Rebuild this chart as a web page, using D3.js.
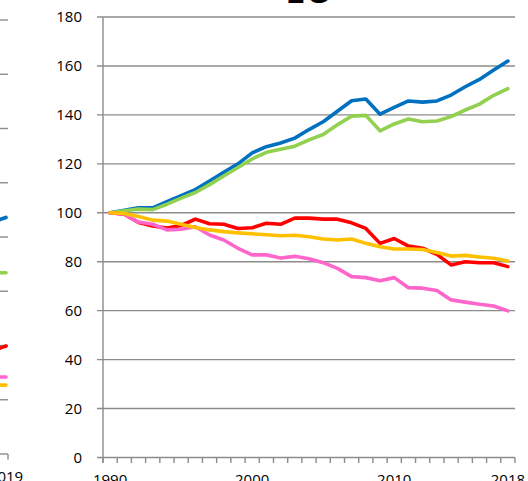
<!DOCTYPE html>
<html>
<head>
<meta charset="utf-8">
<script src="https://cdn.jsdelivr.net/npm/d3@7/dist/d3.min.js"></script>
<style>
  html, body { margin: 0; padding: 0; background: #fff; }
  svg { display: block; }
  text { font-family: "Open Sans", "Noto Sans", sans-serif; fill: #000; }
</style>
</head>
<body>
<svg id="chart" width="528" height="481"></svg>
<script>
// Index, 1990 = 100
const years = d3.range(1990, 2019);
const yTicks = [0, 20, 40, 60, 80, 100, 120, 140, 160, 180];
const xLabels = [1990, 2000, 2010, 2018];

const blue   = [100, 101, 102, 102, 104.5, 107, 109.5, 113, 116.5, 120, 124.5, 127, 128.5, 130.5, 134, 137.2, 141.5, 145.8, 146.5, 140.3, 143.1, 145.7, 145.2, 145.7, 148.1, 151.5, 154.5, 158.3, 162];
const green  = [100, 100.8, 101.5, 101.3, 103.5, 106, 108.3, 111.5, 115, 118.5, 122, 124.7, 126, 127.2, 129.8, 132, 136, 139.5, 139.8, 133.5, 136.3, 138.3, 137.2, 137.5, 139.3, 142, 144.4, 148, 150.7];
const red    = [100, 99.4, 96, 94.6, 93.8, 94.8, 97.4, 95.5, 95.3, 93.6, 93.9, 95.7, 95.3, 97.8, 97.8, 97.4, 97.4, 95.9, 93.6, 87.5, 89.5, 86.4, 85.5, 83, 78.7, 80, 79.6, 79.6, 78];
const pink   = [100, 99.4, 96.2, 95.3, 93, 93.3, 94.3, 90.9, 88.9, 85.5, 82.8, 82.8, 81.5, 82.2, 81.2, 79.6, 77.3, 73.9, 73.5, 72.2, 73.5, 69.4, 69.2, 68.2, 64.4, 63.5, 62.6, 61.9, 59.9];
const orange = [100, 99.7, 98.5, 97, 96.6, 95.3, 94, 93, 92.3, 91.8, 91.4, 91, 90.6, 90.8, 90.2, 89.3, 88.9, 89.3, 87.5, 86.1, 85.2, 85.2, 85, 83.8, 82.3, 82.6, 81.9, 81.4, 80.3];

// Neighbouring panel on the left: only its last years fall inside the frame
const leftYears = [2017, 2018, 2019];
const leftTicks = [0, 20, 40, 60, 80, 100, 120, 140, 160];
const leftBlue   = [86.2, 86.7, 87.2];
const leftGreen  = [66.8, 66.8, 66.8];
const leftRed    = [38.8, 39.3, 39.8];
const leftPink   = [28.4, 28.4, 28.4];
const leftOrange = [25.4, 25.4, 25.4];

const titleText = "EU";

const series = [
  { values: blue,   left: leftBlue,   color: "#0070C0" },
  { values: green,  left: leftGreen,  color: "#92D050" },
  { values: red,    left: leftRed,    color: "#FF0000" },
  { values: pink,   left: leftPink,   color: "#FF66CC" },
  { values: orange, left: leftOrange, color: "#FFC000" }
];

const svg = d3.select("#chart");
const gridColor = "#8c8c8c";

// ---- main panel ----
const plot = { left: 103, right: 515, top: 17, bottom: 457.5 };

const x = d3.scaleBand().domain(years).range([plot.left, plot.right]).padding(0);
const y = d3.scaleLinear().domain([0, 180]).range([plot.bottom, plot.top]);
const cx = d => x(d) + x.bandwidth() / 2;

// horizontal gridlines with short outer ticks
svg.append("g").selectAll("line").data(yTicks).join("line")
  .attr("x1", plot.left - 6).attr("x2", plot.right)
  .attr("y1", d => y(d)).attr("y2", d => y(d))
  .attr("stroke", gridColor).attr("stroke-width", 1.4);

// y axis line
svg.append("line")
  .attr("x1", plot.left).attr("x2", plot.left)
  .attr("y1", y(180)).attr("y2", plot.bottom + 5.5)
  .attr("stroke", gridColor).attr("stroke-width", 1.4);

// x tick marks between categories
const bounds = years.map(d => x(d)).concat([plot.right]);
svg.append("g").selectAll("line").data(bounds).join("line")
  .attr("x1", d => d).attr("x2", d => d)
  .attr("y1", plot.bottom).attr("y2", plot.bottom + 5.5)
  .attr("stroke", gridColor).attr("stroke-width", 1.4);

// y labels
svg.append("g").selectAll("text").data(yTicks).join("text")
  .attr("x", 82).attr("y", d => y(d))
  .attr("dy", "0.36em")
  .attr("text-anchor", "end")
  .style("font-size", "15px")
  .text(d => d);

// x labels
svg.append("g").selectAll("text").data(xLabels).join("text")
  .attr("x", d => cx(d)).attr("y", 485)
  .attr("text-anchor", "middle")
  .style("font-size", "15px")
  .text(d => d);

// series lines
const line = d3.line()
  .x((d, i) => cx(years[i]))
  .y(d => y(d));

svg.append("g").selectAll("path").data(series).join("path")
  .attr("d", s => line(s.values))
  .attr("fill", "none")
  .attr("stroke", s => s.color)
  .attr("stroke-width", 3.6)
  .attr("stroke-linejoin", "round")
  .attr("stroke-linecap", "round");

// title
svg.append("text")
  .attr("x", (plot.left + plot.right) / 2).attr("y", 2.5)
  .attr("text-anchor", "middle")
  .style("font-size", "36px")
  .style("font-weight", "bold")
  .text(titleText);

// ---- left panel (clipped by the frame edge) ----
const lx = d3.scaleBand().domain(leftYears).range([-4, 8]).padding(0);
const ly = d3.scaleLinear().domain([0, 160]).range([454, 20]);
const lcx = d => lx(d) + lx.bandwidth() / 2;

svg.append("g").selectAll("line").data(leftTicks).join("line")
  .attr("x1", -20).attr("x2", 8)
  .attr("y1", d => ly(d)).attr("y2", d => ly(d))
  .attr("stroke", gridColor).attr("stroke-width", 1.4);

svg.append("line")
  .attr("x1", 8).attr("x2", 8)
  .attr("y1", ly(0)).attr("y2", ly(0) + 5.5)
  .attr("stroke", gridColor).attr("stroke-width", 1.4);

svg.append("text")
  .attr("x", lcx(2019)).attr("y", 482)
  .attr("text-anchor", "middle")
  .style("font-size", "15px")
  .text("2019");

const leftLine = d3.line()
  .x((d, i) => lcx(leftYears[i]))
  .y(d => ly(d));

svg.append("g").selectAll("path").data(series).join("path")
  .attr("d", s => leftLine(s.left))
  .attr("fill", "none")
  .attr("stroke", s => s.color)
  .attr("stroke-width", 3.6)
  .attr("stroke-linejoin", "round")
  .attr("stroke-linecap", "round");
</script>
</body>
</html>
